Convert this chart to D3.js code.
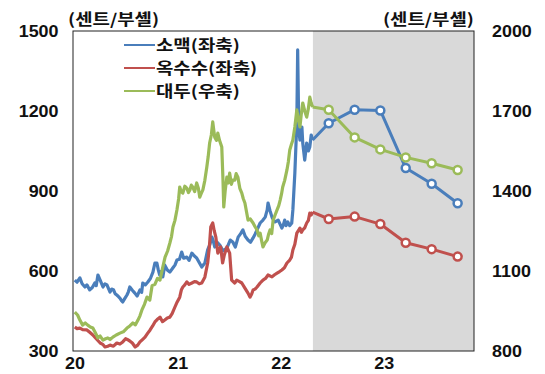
<!DOCTYPE html>
<html>
<head>
<meta charset="utf-8">
<script src="https://cdn.jsdelivr.net/npm/d3@7"></script>
<style>
  html, body { margin: 0; padding: 0; background: #fff; }
  svg { display: block; }
  .tick text { font-family: "Liberation Sans", Arial, sans-serif; font-weight: bold; font-size: 16px; fill: #111; }
  .ko { font-family: "Noto Sans CJK KR", "Noto Sans", sans-serif; font-weight: bold; fill: #111; font-size: 15.5px; }
</style>
</head>
<body>
<svg id="chart" width="545" height="374"></svg>
<script>
// Grain futures prices (cents per bushel): wheat and corn on the left axis, soybeans on the right.
const yearLabels = ["20", "21", "22", "23"];
const yearDates = ["2020-01-01", "2021-01-01", "2022-01-01", "2023-01-01"];
const leftTicks = [300, 600, 900, 1200, 1500];
const rightTicks = [800, 1100, 1400, 1700, 2000];
const seriesNames = ["소맥(좌축)", "옥수수(좌축)", "대두(우축)"];
const unitLabel = "(센트/부셸)";
const forecastStart = "2022-04-25";

// Historical prices [date, value]
const wheatHist = [
  ["2020-01-02",566],["2020-01-10",558],["2020-01-20",574],["2020-01-28",552],["2020-02-07",540],
  ["2020-02-14",548],["2020-02-24",529],["2020-03-04",538],["2020-03-13",555],["2020-03-18",545],
  ["2020-03-24",585],["2020-04-01",566],["2020-04-11",540],["2020-04-18",552],["2020-04-25",548],
  ["2020-05-06",521],["2020-05-12",532],["2020-05-18",530],["2020-05-24",515],["2020-05-30",510],
  ["2020-06-05",504],["2020-06-10",498],["2020-06-15",490],["2020-06-20",484],["2020-06-28",498],
  ["2020-07-05",510],["2020-07-10",522],["2020-07-15",540],["2020-07-24",528],["2020-08-02",517],
  ["2020-08-10",506],["2020-08-20",529],["2020-08-26",520],["2020-08-30",555],["2020-09-08",548],
  ["2020-09-17",559],["2020-09-26",572],["2020-10-05",596],["2020-10-12",630],["2020-10-19",630],
  ["2020-10-24",604],["2020-10-29",585],["2020-11-04",598],["2020-11-09",578],["2020-11-16",622],
  ["2020-11-25",604],["2020-12-04",596],["2020-12-15",612],["2020-12-22",622],["2020-12-29",641],
  ["2021-01-07",644],["2021-01-15",671],["2021-01-22",648],["2021-02-02",652],["2021-02-10",640],
  ["2021-02-20",667],["2021-03-01",656],["2021-03-09",649],["2021-03-18",632],["2021-03-27",615],
  ["2021-04-07",630],["2021-04-17",679],["2021-04-25",700],["2021-05-02",727],["2021-05-07",712],
  ["2021-05-12",690],["2021-05-20",708],["2021-05-30",697],["2021-06-10",676],["2021-06-24",686],
  ["2021-07-06",716],["2021-07-15",709],["2021-07-24",690],["2021-08-03",727],["2021-08-12",740],
  ["2021-08-20",754],["2021-08-28",730],["2021-09-07",716],["2021-09-16",708],["2021-09-25",724],
  ["2021-10-02",738],["2021-10-09",754],["2021-10-20",780],["2021-10-30",791],["2021-11-07",802],
  ["2021-11-14",829],["2021-11-17",855],["2021-11-24",826],["2021-12-01",802],["2021-12-07",790],
  ["2021-12-12",784],["2021-12-23",791],["2021-12-30",775],["2022-01-05",761],["2022-01-10",772],
  ["2022-01-15",791],["2022-01-20",770],["2022-01-26",784],["2022-02-02",770],["2022-02-09",780],
  ["2022-02-13",829],["2022-02-20",967],["2022-02-27",1155],["2022-03-02",1429],["2022-03-06",1129],
  ["2022-03-10",1091],["2022-03-17",1140],["2022-03-20",1080],["2022-03-27",1016],["2022-04-03",1080],
  ["2022-04-09",1050],["2022-04-14",1065],["2022-04-19",1110],["2022-04-24",1091]
];
const cornHist = [
  ["2020-01-02",390],["2020-01-10",384],["2020-01-20",386],["2020-01-30",380],["2020-02-14",379],
  ["2020-02-24",370],["2020-03-06",360],["2020-03-18",346],["2020-04-01",330],["2020-04-10",325],
  ["2020-04-18",315],["2020-04-28",318],["2020-05-06",322],["2020-05-18",318],["2020-05-30",330],
  ["2020-06-10",326],["2020-06-20",334],["2020-06-30",346],["2020-07-10",341],["2020-07-17",336],
  ["2020-07-24",330],["2020-08-03",315],["2020-08-12",322],["2020-08-20",334],["2020-08-28",342],
  ["2020-09-07",352],["2020-09-16",366],["2020-09-25",379],["2020-10-04",394],["2020-10-12",409],
  ["2020-10-20",418],["2020-10-30",427],["2020-11-08",410],["2020-11-16",416],["2020-11-25",424],
  ["2020-12-04",427],["2020-12-12",440],["2020-12-22",465],["2020-12-30",484],["2021-01-08",502],
  ["2021-01-14",530],["2021-01-19",540],["2021-01-26",548],["2021-02-02",559],["2021-02-10",550],
  ["2021-02-20",555],["2021-03-01",560],["2021-03-09",559],["2021-03-18",552],["2021-03-27",555],
  ["2021-04-07",577],["2021-04-17",630],["2021-04-23",690],["2021-04-28",765],["2021-05-05",780],
  ["2021-05-10",752],["2021-05-16",727],["2021-05-23",667],["2021-06-02",690],["2021-06-09",630],
  ["2021-06-15",660],["2021-06-24",690],["2021-07-04",667],["2021-07-11",566],["2021-07-22",555],
  ["2021-07-29",566],["2021-08-08",560],["2021-08-16",555],["2021-08-27",536],["2021-09-07",517],
  ["2021-09-14",502],["2021-09-20",514],["2021-09-25",529],["2021-10-02",532],["2021-10-09",540],
  ["2021-10-20",555],["2021-10-30",566],["2021-11-08",572],["2021-11-17",585],["2021-12-01",578],
  ["2021-12-10",586],["2021-12-19",592],["2021-12-28",598],["2022-01-05",604],["2022-01-14",612],
  ["2022-01-23",630],["2022-02-02",641],["2022-02-08",652],["2022-02-13",679],["2022-02-20",700],
  ["2022-02-27",742],["2022-03-05",752],["2022-03-10",761],["2022-03-15",745],["2022-03-20",754],
  ["2022-03-27",762],["2022-04-03",780],["2022-04-09",790],["2022-04-14",817],["2022-04-19",810],
  ["2022-04-24",821]
];
const soyHist = [
  ["2020-01-02",946],["2020-01-12",935],["2020-01-20",916],["2020-01-30",897],["2020-02-08",905],
  ["2020-02-17",897],["2020-02-26",890],["2020-03-06",886],["2020-03-15",868],["2020-03-24",849],
  ["2020-04-01",856],["2020-04-11",841],["2020-04-20",846],["2020-04-28",849],["2020-05-06",843],
  ["2020-05-16",852],["2020-05-28",860],["2020-06-10",867],["2020-06-22",872],["2020-07-05",886],
  ["2020-07-15",894],["2020-07-26",905],["2020-08-04",898],["2020-08-13",916],["2020-08-20",932],
  ["2020-08-27",954],["2020-09-05",975],["2020-09-14",1002],["2020-09-24",991],["2020-10-02",1045],
  ["2020-10-12",1050],["2020-10-21",1072],["2020-10-30",1066],["2020-11-08",1110],["2020-11-17",1152],
  ["2020-11-26",1175],["2020-12-04",1205],["2020-12-10",1230],["2020-12-15",1265],["2020-12-22",1290],
  ["2020-12-29",1329],["2021-01-04",1370],["2021-01-08",1415],["2021-01-13",1398],["2021-01-19",1392],
  ["2021-01-26",1418],["2021-02-02",1411],["2021-02-08",1394],["2021-02-13",1404],["2021-02-18",1422],
  ["2021-02-23",1415],["2021-03-02",1398],["2021-03-09",1430],["2021-03-15",1410],["2021-03-20",1377],
  ["2021-03-25",1390],["2021-03-31",1404],["2021-04-07",1440],["2021-04-14",1490],["2021-04-19",1530],
  ["2021-04-24",1580],["2021-04-30",1610],["2021-05-05",1659],["2021-05-09",1625],["2021-05-12",1602],
  ["2021-05-18",1590],["2021-05-23",1617],["2021-05-29",1590],["2021-06-06",1565],["2021-06-10",1450],
  ["2021-06-13",1340],["2021-06-18",1400],["2021-06-24",1452],["2021-06-29",1430],["2021-07-04",1467],
  ["2021-07-10",1425],["2021-07-15",1441],["2021-07-22",1441],["2021-07-27",1465],["2021-08-02",1452],
  ["2021-08-09",1410],["2021-08-16",1392],["2021-08-21",1372],["2021-08-27",1355],["2021-09-02",1320],
  ["2021-09-07",1291],["2021-09-15",1295],["2021-09-25",1280],["2021-10-02",1266],["2021-10-09",1254],
  ["2021-10-15",1232],["2021-10-20",1242],["2021-10-25",1215],["2021-10-30",1190],["2021-11-06",1205],
  ["2021-11-14",1216],["2021-11-19",1238],["2021-11-24",1254],["2021-11-30",1240],["2021-12-05",1291],
  ["2021-12-12",1310],["2021-12-19",1329],["2021-12-25",1345],["2021-12-30",1366],["2022-01-04",1390],
  ["2022-01-08",1415],["2022-01-15",1440],["2022-01-23",1479],["2022-01-28",1510],["2022-02-02",1554],
  ["2022-02-08",1575],["2022-02-13",1591],["2022-02-20",1640],["2022-02-27",1704],["2022-03-04",1670],
  ["2022-03-10",1640],["2022-03-15",1690],["2022-03-20",1730],["2022-03-27",1700],["2022-04-03",1677],
  ["2022-04-09",1710],["2022-04-14",1752],["2022-04-19",1730],["2022-04-24",1715]
];

// Quarterly outlook
const forecastDates = ["2022-06-20", "2022-09-20", "2022-12-20", "2023-03-20", "2023-06-20", "2023-09-20"];
const wheatForecast = [1154, 1205, 1202, 986, 927, 854];
const cornForecast = [795, 804, 776, 706, 682, 654];
const soyForecast = [1705, 1601, 1556, 1526, 1504, 1479];

const colors = ["#4A7EBB", "#C0504D", "#9BBB59"];

const parse = d3.timeParse("%Y-%m-%d");
const svg = d3.select("#chart");
const m = { left: 74.5, right: 474, top: 31, bottom: 351 };

const x = d3.scaleTime()
  .domain([parse("2020-01-01"), parse("2023-11-17")])
  .range([m.left, m.right]);
const yL = d3.scaleLinear().domain([300, 1500]).range([m.bottom, m.top]);
const yR = d3.scaleLinear().domain([800, 2000]).range([m.bottom, m.top]);

// Outlook period shading
svg.append("rect")
  .attr("x", x(parse(forecastStart)))
  .attr("y", m.top)
  .attr("width", m.right - x(parse(forecastStart)))
  .attr("height", m.bottom - m.top)
  .attr("fill", "#D9D9D9");

const series = [
  { hist: wheatHist, fc: wheatForecast, y: yL, color: colors[0] },
  { hist: cornHist, fc: cornForecast, y: yL, color: colors[1] },
  { hist: soyHist, fc: soyForecast, y: yR, color: colors[2] }
];

series.forEach(s => {
  const histPts = s.hist.map(d => [parse(d[0]), d[1]]);
  const fcPts = forecastDates.map((d, i) => [parse(d), s.fc[i]]);
  const line = d3.line().x(d => x(d[0])).y(d => s.y(d[1]));
  svg.append("path")
    .datum(histPts)
    .attr("d", line)
    .attr("fill", "none")
    .attr("stroke", s.color)
    .attr("stroke-width", 3.2)
    .attr("stroke-linejoin", "round");
  svg.append("path")
    .datum([histPts[histPts.length - 1]].concat(fcPts))
    .attr("d", line)
    .attr("fill", "none")
    .attr("stroke", s.color)
    .attr("stroke-width", 3)
    .attr("stroke-linejoin", "round");
  svg.selectAll(null)
    .data(fcPts)
    .enter().append("circle")
    .attr("cx", d => x(d[0]))
    .attr("cy", d => s.y(d[1]))
    .attr("r", 4)
    .attr("fill", "#fff")
    .attr("stroke", s.color)
    .attr("stroke-width", 2.5);
});

// Plot frame
svg.append("rect")
  .attr("x", m.left - 1.5)
  .attr("y", m.top)
  .attr("width", m.right - m.left + 1.5)
  .attr("height", m.bottom - m.top)
  .attr("fill", "none")
  .attr("stroke", "#222")
  .attr("stroke-width", 1);

// Axes (labels slightly widened, as in the printed chart)
const numFmt = d3.format("d");
const gl = svg.append("g")
  .attr("transform", `translate(${m.left - 16},0)`)
  .call(d3.axisLeft(yL).tickValues(leftTicks).tickFormat(numFmt).tickSize(0).tickPadding(0));
gl.select(".domain").remove();

const gr = svg.append("g")
  .attr("transform", `translate(${m.right + 18},0)`)
  .call(d3.axisRight(yR).tickValues(rightTicks).tickFormat(numFmt).tickSize(0).tickPadding(0));
gr.select(".domain").remove();

const gx = svg.append("g")
  .attr("transform", `translate(0,${m.bottom})`)
  .call(d3.axisBottom(x).tickValues(yearDates.map(parse)).tickFormat((d, i) => yearLabels[i]).tickSize(0).tickPadding(7));
gx.select(".domain").remove();

svg.selectAll(".tick text").attr("transform", "scale(1.12,1)");

// Stretched Korean text helper
function koText(px, py, str, anchor) {
  return svg.append("text").attr("class", "ko")
    .attr("transform", `translate(${px},${py}) scale(1.22,1)`)
    .attr("text-anchor", anchor || "start")
    .text(str);
}

// Unit labels
koText(68, 25, unitLabel);
koText(474, 25, unitLabel, "end");

// Legend
seriesNames.forEach((name, i) => {
  const ly = 45 + i * 23;
  svg.append("line")
    .attr("x1", 124).attr("x2", 155)
    .attr("y1", ly).attr("y2", ly)
    .attr("stroke", colors[i]).attr("stroke-width", 2);
  koText(156, ly + 5.5, name);
});
</script>
</body>
</html>
